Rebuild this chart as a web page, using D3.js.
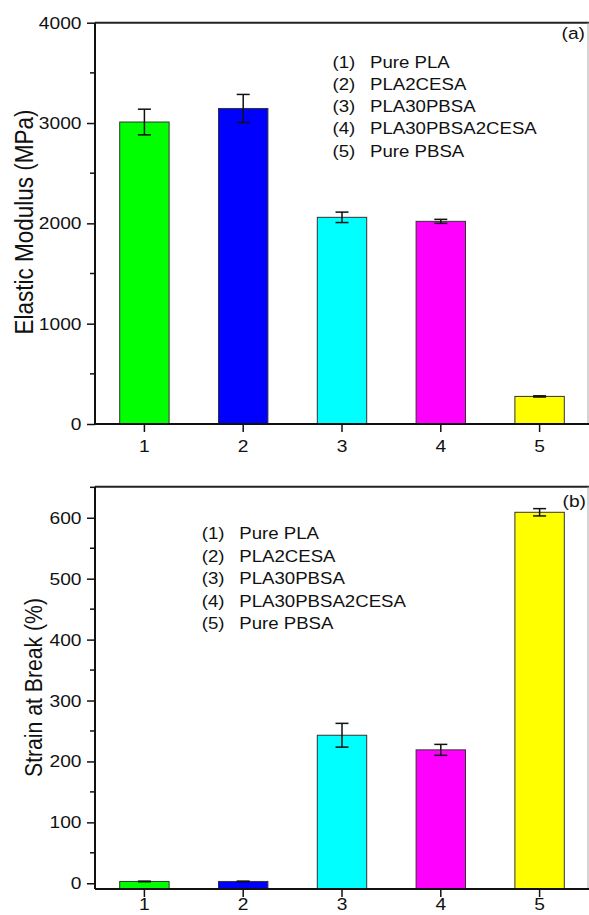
<!DOCTYPE html>
<html><head><meta charset="utf-8">
<script src="https://cdn.jsdelivr.net/npm/d3@7"></script>
<style>body{margin:0;background:#fff}svg{display:block}text{font-family:"Liberation Sans",Arial,sans-serif;fill:#111}</style>
</head><body>
<script>
const categories = ["1","2","3","4","5"];
const legendLabels = ["Pure PLA","PLA2CESA","PLA30PBSA","PLA30PBSA2CESA","Pure PBSA"];
const barColors = ["#00ff00","#0000ff","#00ffff","#ff00ff","#ffff00"];
const modulusValues = [3010, 3145, 2060, 2020, 275];
const modulusErrors = [128, 140, 52, 20, 6];
const strainValues = [3, 3, 243, 219, 609];
const strainErrors = [0.5, 0.5, 19.5, 9, 6];
const modulusTicks = [0, 1000, 2000, 3000, 4000];
const strainTicks = [0, 100, 200, 300, 400, 500, 600];

const W = 589, H = 915, SX = 1.13;
const svg = d3.select("body").append("svg").attr("width", W).attr("height", H);

function panel(opt) {
  const g = svg.append("g");
  const x = d3.scaleBand().domain(categories).range([95, 589]).paddingInner(0.5).paddingOuter(0.25);
  const y = d3.scaleLinear().domain(opt.domain).range([opt.bottom, opt.top]);
  const base = y(opt.domain[0]);
  g.selectAll("rect.bar").data(opt.values).join("rect")
    .attr("x", (d, i) => x(categories[i])).attr("width", x.bandwidth())
    .attr("y", d => y(d)).attr("height", d => base - y(d))
    .attr("fill", (d, i) => barColors[i]).attr("stroke", "#333").attr("stroke-width", 1);
  const cap = 6.5;
  const eb = g.selectAll("g.err").data(opt.values).join("g");
  eb.append("line")
    .attr("x1", (d, i) => x(categories[i]) + x.bandwidth() / 2).attr("x2", (d, i) => x(categories[i]) + x.bandwidth() / 2)
    .attr("y1", (d, i) => y(d + opt.errors[i])).attr("y2", (d, i) => y(d - opt.errors[i]))
    .attr("stroke", "#111").attr("stroke-width", 1.5);
  [1, -1].forEach(s => {
    eb.append("line")
      .attr("x1", (d, i) => x(categories[i]) + x.bandwidth() / 2 - cap).attr("x2", (d, i) => x(categories[i]) + x.bandwidth() / 2 + cap)
      .attr("y1", (d, i) => y(d + s * opt.errors[i])).attr("y2", (d, i) => y(d + s * opt.errors[i]))
      .attr("stroke", "#111").attr("stroke-width", 1.5);
  });
  g.append("line").attr("x1", 95).attr("x2", 589).attr("y1", opt.top).attr("y2", opt.top).attr("stroke", "#222").attr("stroke-width", 2);
  g.append("line").attr("x1", 588).attr("x2", 588).attr("y1", opt.top).attr("y2", opt.bottom).attr("stroke", "#aaa").attr("stroke-width", 1);
  const minor = d3.range(0, opt.domain[1], opt.minorStep).filter(v => !opt.ticks.includes(v));
  g.append("g").selectAll("line").data(minor).join("line")
    .attr("x1", 90).attr("x2", 95).attr("y1", d => y(d)).attr("y2", d => y(d)).attr("stroke", "#111").attr("stroke-width", 1.5);
  const ya = g.append("g").attr("transform", "translate(95,0)")
    .call(d3.axisLeft(y).tickValues(opt.ticks).tickSize(8).tickSizeOuter(0).tickFormat(d3.format("d")));
  ya.select(".domain").attr("stroke", "#111").attr("stroke-width", 2).attr("d", `M0,${opt.top}V${opt.bottom}`);
  ya.selectAll(".tick line").attr("stroke", "#111").attr("stroke-width", 1.5);
  ya.selectAll(".tick text").attr("x", 0).attr("dy", null)
    .attr("transform", "translate(-13.5,5.5) scale(" + SX + ",1)")
    .attr("text-anchor", "end").style("font-size", "17px").attr("fill", "#111").style("font-family", "Liberation Sans, Arial, sans-serif");
  const xa = g.append("g").attr("transform", `translate(0,${opt.bottom})`)
    .call(d3.axisBottom(x).tickSize(8).tickSizeOuter(0));
  xa.select(".domain").attr("stroke", "#111").attr("stroke-width", 2).attr("d", "M95,0H589");
  xa.selectAll(".tick line").attr("stroke", "#111").attr("stroke-width", 1.5);
  xa.selectAll(".tick text").attr("y", 0).attr("dy", null)
    .attr("transform", "translate(0," + opt.xLabelOffset + ") scale(" + SX + ",1)")
    .attr("text-anchor", "middle").style("font-size", "17px").attr("fill", "#111").style("font-family", "Liberation Sans, Arial, sans-serif");
  svg.append("text").attr("transform", `translate(${opt.titleX},${opt.titleY}) scale(${SX},1) rotate(-90)`)
    .attr("text-anchor", "middle").attr("dy", "0.35em").style("font-size", opt.titleSize + "px").text(opt.title);
  const lg = svg.append("g");
  legendLabels.forEach((lab, i) => {
    lg.append("text").attr("transform", `translate(${opt.legX},${opt.legY + i * opt.legStep}) scale(${SX},1)`)
      .style("font-size", "16.5px").text("(" + (i + 1) + ")");
    lg.append("text").attr("transform", `translate(${opt.legX + 37.5},${opt.legY + i * opt.legStep}) scale(${SX},1)`)
      .style("font-size", "16.5px").text(lab);
  });
  svg.append("text").attr("transform", `translate(${opt.tagX},${opt.tagY}) scale(${SX},1)`)
    .style("font-size", "17px").text(opt.tag);
}

panel({ values: modulusValues, errors: modulusErrors, domain: [0, 4000], top: 22.7, bottom: 424,
  ticks: modulusTicks, minorStep: 500, title: "Elastic Modulus (MPa)", titleX: 24.5, titleY: 222, titleSize: 22.5,
  legX: 332.5, legY: 67.5, legStep: 22.3, tag: "(a)", tagX: 561.5, tagY: 39, xLabelOffset: 27.5 });
panel({ values: strainValues, errors: strainErrors, domain: [-9.4, 651], top: 486.7, bottom: 889,
  ticks: strainTicks, minorStep: 50, title: "Strain at Break (%)", titleX: 33.5, titleY: 687.5, titleSize: 21.2,
  legX: 201.7, legY: 539, legStep: 22.5, tag: "(b)", tagX: 562.5, tagY: 507, xLabelOffset: 21 });
</script>
</body></html>
